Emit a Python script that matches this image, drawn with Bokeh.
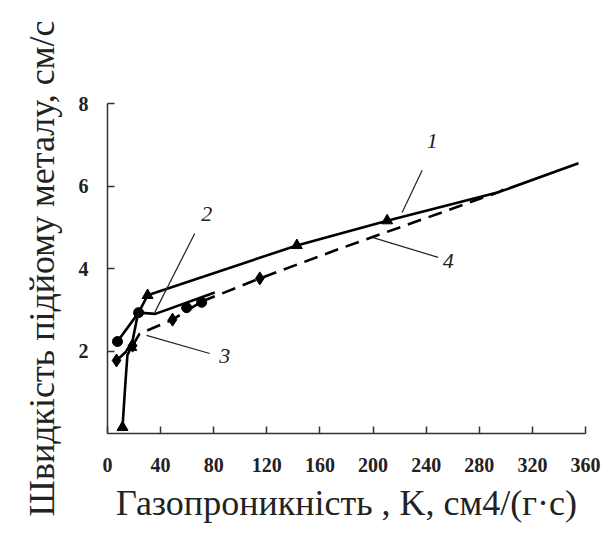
from bokeh.plotting import figure
from bokeh.models import FixedTicker, Range1d
from bokeh.core.properties import value
from bokeh.embed import file_html
from bokeh.resources import INLINE

# ---- data ----
x_ticks = [0, 40, 80, 120, 160, 200, 240, 280, 320, 360]
y_ticks = [2, 4, 6, 8]

c1_x = [11.3, 13.6, 15.0, 17.9, 22.9, 30.2, 142.6, 210.6, 293.6, 354.7]
c1_y = [0.15, 1.28, 1.90, 2.09, 2.90, 3.35, 4.56, 5.16, 5.84, 6.55]
c1_mx = [11.3, 17.9, 30.2, 142.6, 210.6]
c1_my = [0.15, 2.09, 3.35, 4.56, 5.16]

c2_x = [7.5, 23.4, 36.0, 80.8]
c2_y = [2.23, 2.93, 2.90, 3.42]
c2_mx = [7.5, 23.4, 59.6, 70.9]
c2_my = [2.23, 2.93, 3.05, 3.18]

c3_x = [6.8, 18.9, 24.2, 49.0, 71.0]
c3_y = [1.77, 2.13, 2.42, 2.76, 3.20]
c3_mx = [6.8, 18.9, 49.0]
c3_my = [1.77, 2.13, 2.76]

c4_x = [71.0, 114.7, 175.0, 293.6, 300.0]
c4_y = [3.20, 3.76, 4.48, 5.84, 5.94]
c4_mx = [114.7]
c4_my = [3.76]

lbl_text = ["1", "2", "3", "4"]
lbl_x = [244.5, 74.7, 88.3, 256.6]
lbl_y = [7.10, 5.33, 1.89, 4.19]
lead_x0 = [237.0, 65.7, 29.4, 200.0]
lead_y0 = [6.38, 4.85, 2.38, 4.75]
lead_x1 = [221.9, 35.5, 77.0, 249.0]
lead_y1 = [5.36, 2.93, 1.94, 4.27]

x_title = "Газопроникність , K, см4/(г·с)"
y_title = "Швидкість підйому металу, см/с"

# ---- figure ----
p = figure(frame_width=478, frame_height=330,
           min_border_left=107, min_border_right=20,
           min_border_top=103, min_border_bottom=98,
           x_range=Range1d(0, 360), y_range=Range1d(0, 8),
           output_backend="svg", toolbar_location=None)
p.outline_line_color = None
p.xgrid.visible = False
p.ygrid.visible = False
p.background_fill_color = "white"
p.border_fill_color = "white"

serif = "Liberation Serif"
for ax in (p.xaxis[0], p.yaxis[0]):
    ax.axis_line_color = "#333333"
    ax.axis_line_width = 1.5
    ax.major_tick_line_color = "#333333"
    ax.major_tick_line_width = 1.5
    ax.major_tick_in = 7
    ax.major_tick_out = 0
    ax.minor_tick_line_color = None
    ax.major_label_text_font = serif
    ax.major_label_text_font_style = "bold"
    ax.major_label_text_font_size = "20px"
    ax.major_label_text_color = "#222222"
    ax.axis_label_text_font = serif
    ax.axis_label_text_font_style = "normal"
    ax.axis_label_text_font_size = "36px"
    ax.axis_label_text_color = "#222222"

p.xaxis.ticker = FixedTicker(ticks=x_ticks)
p.yaxis.ticker = FixedTicker(ticks=y_ticks)
p.xaxis.axis_label = x_title
p.yaxis.axis_label = y_title
p.xaxis.major_label_standoff = 24
p.xaxis.axis_label_standoff = 8
p.yaxis.major_label_standoff = 19
p.yaxis.axis_label_standoff = 14

# ---- curves ----
p.line(c1_x, c1_y, line_color="black", line_width=2.6)
p.scatter(c1_mx, c1_my, marker="triangle", size=11, color="black")

p.line(c2_x, c2_y, line_color="black", line_width=2.6)
p.scatter(c2_mx, c2_my, marker="circle", size=10, color="black")

p.line(c3_x, c3_y, line_color="black", line_width=2.6, line_dash="14 8")
p.scatter(c3_mx, c3_my, marker="diamond", size=13, color="black")

p.line(c4_x, c4_y, line_color="black", line_width=2.6, line_dash="14 8")
p.scatter(c4_mx, c4_my, marker="diamond", size=13, color="black")

# ---- labels with leaders ----
p.segment(lead_x0, lead_y0, lead_x1, lead_y1, line_color="#222222", line_width=1.2)
p.text(lbl_x, lbl_y, text=lbl_text, text_font=value(serif), text_font_style="italic",
       text_font_size="22px", text_align="center", text_baseline="middle", text_color="#222222")

open("out.html", "w").write(file_html(p, INLINE))
